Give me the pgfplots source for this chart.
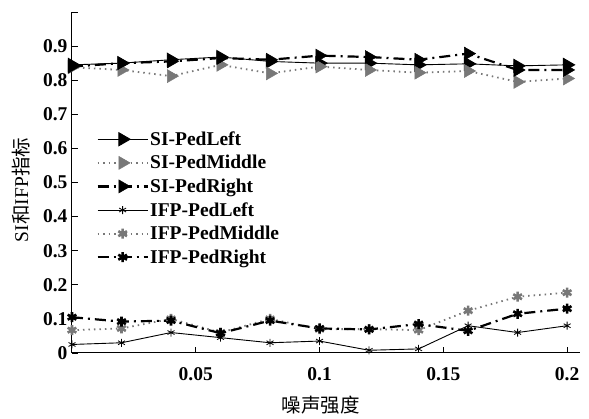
\documentclass[border=0pt]{standalone}
\usepackage{fontspec}
\setmainfont{Liberation Serif}
\newfontfamily\cjk{Noto Sans CJK SC}
\usepackage{pgfplots}
\pgfplotsset{compat=1.18}
\usetikzlibrary{plotmarks}

\definecolor{midgray}{RGB}{120,120,120}
\newcommand{\chartsize}{\fontsize{19.5}{21}\selectfont}

\pgfplotstableread{
x     sil    sim    sir    ifl    ifm    ifr
0.00  0.845  0.838  0.840  0.025  0.067  0.105
0.02  0.850  0.830  0.850  0.030  0.072  0.092
0.04  0.860  0.812  0.855  0.060  0.100  0.095
0.06  0.868  0.845  0.865  0.045  0.060  0.058
0.08  0.855  0.820  0.860  0.030  0.100  0.095
0.10  0.850  0.840  0.872  0.035  0.070  0.072
0.12  0.850  0.830  0.868  0.008  0.070  0.069
0.14  0.845  0.822  0.860  0.012  0.067  0.085
0.16  0.848  0.827  0.878  0.080  0.124  0.065
0.18  0.842  0.795  0.830  0.060  0.165  0.115
0.20  0.845  0.805  0.830  0.080  0.177  0.130
}\data

\begin{document}
\begin{tikzpicture}
\path[use as bounding box] (-72pt,-66pt) rectangle (517pt,353pt);
\begin{axis}[
  at={(0,0)}, anchor=south west,
  scale only axis, width=508pt, height=341pt,
  xmin=0, xmax=0.2052, ymin=0, ymax=1,
  axis x line*=bottom, axis y line*=left,
  axis line style={black, line width=1pt},
  tick align=inside,
  tick style={black, line width=0.8pt},
  major tick length=6pt,
  xtick={0.05,0.1,0.15,0.2},
  xticklabels={0.05,0.1,0.15,0.2},
  ytick={0,0.1,...,1.0},
  yticklabels={0,0.1,0.2,0.3,0.4,0.5,0.6,0.7,0.8,0.9,{}},
  ticklabel style={font=\chartsize\bfseries},
  xticklabel style={yshift=-11pt},
  yticklabel style={xshift=-1pt},
  xlabel={\cjk\chartsize 噪声强度},
  ylabel={\chartsize SI{\cjk 和}IFP{\cjk 指标}},
  xlabel style={at={(axis description cs:0.49,-0.152)}, anchor=center},
  ylabel style={at={(axis description cs:-0.101,0.478)}, anchor=center},
  legend style={draw=none, fill=none, at={(axis description cs:0.042,0.66)},
    anchor=north west, font=\chartsize\bfseries, row sep=5.5pt,
    nodes={inner sep=1.5pt}},
  legend cell align=left,
  legend image code/.code={
    \draw[mark repeat=2,mark phase=2,#1] plot coordinates {(0pt,0pt) (25pt,0pt) (50pt,0pt)};},
  clip=false,
]
\addplot[black, line width=0.9pt, mark=triangle*, mark size=7.5pt,
  mark options={solid, rotate=-90, fill=black}] table[x=x,y=sil]{\data};
\addplot[midgray, line width=1.8pt, dash pattern=on 1.5pt off 4pt, mark=triangle*, mark size=7.5pt,
  mark options={solid, rotate=-90, fill=midgray, line width=0.5pt}] table[x=x,y=sim]{\data};
\addplot[black, line width=2.2pt, dash pattern=on 11pt off 5pt on 2pt off 5pt, mark=triangle*, mark size=7.5pt,
  mark options={solid, rotate=-90, fill=black, line width=0.5pt}] table[x=x,y=sir]{\data};
\addplot[black, line width=0.9pt, mark=asterisk, mark size=4pt,
  mark options={solid, line width=0.8pt}] table[x=x,y=ifl]{\data};
\addplot[midgray, line width=1.8pt, dash pattern=on 1.5pt off 4pt, mark=asterisk, mark size=5pt,
  mark options={solid, line width=2.6pt}] table[x=x,y=ifm]{\data};
\addplot[black, line width=2.2pt, dash pattern=on 11pt off 5pt on 2pt off 5pt, mark=asterisk, mark size=5pt,
  mark options={solid, line width=2.6pt}] table[x=x,y=ifr]{\data};
\legend{SI-PedLeft,SI-PedMiddle,SI-PedRight,IFP-PedLeft,IFP-PedMiddle,IFP-PedRight}
\end{axis}
\end{tikzpicture}
\end{document}
